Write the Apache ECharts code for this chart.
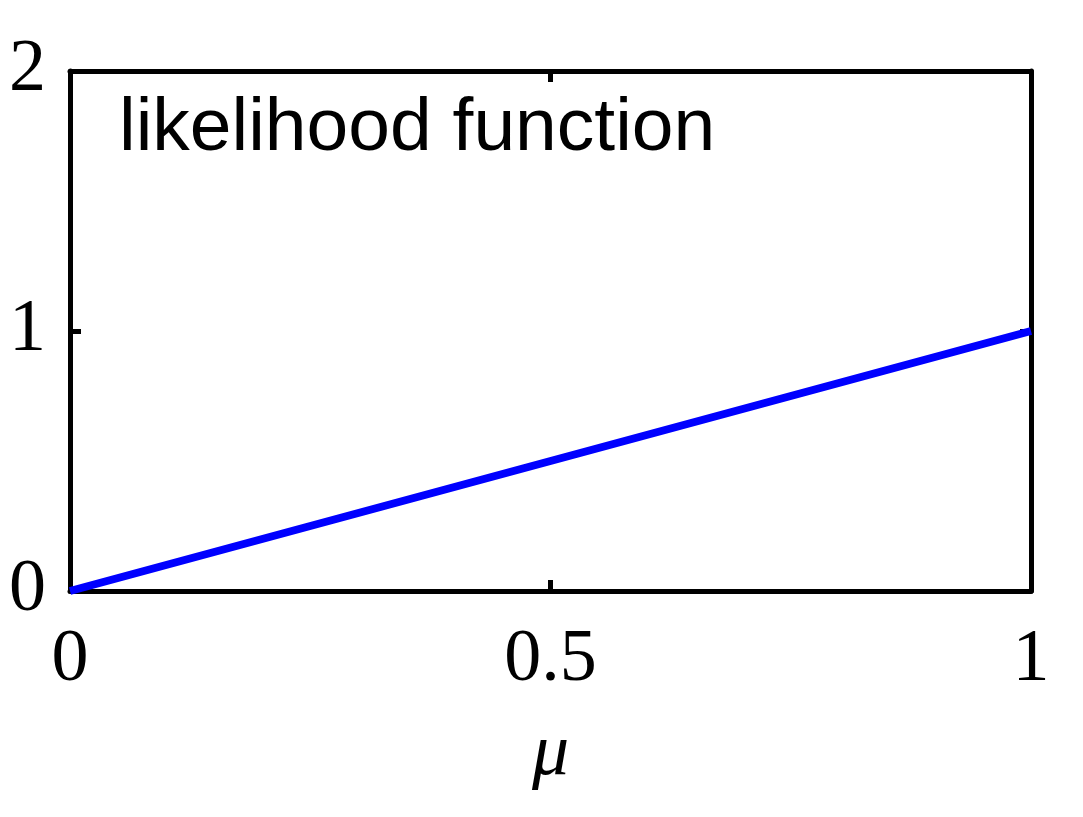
<!DOCTYPE html>
<html>
<head>
<meta charset="utf-8">
<script src="https://cdn.jsdelivr.net/npm/echarts@6/dist/echarts.min.js"></script>
<style>
html,body{margin:0;padding:0;background:#fff;}
#chart{width:1083px;height:817px;}
</style>
</head>
<body>
<div id="chart"></div>
<script>
var muValues = [0, 0.25, 0.5, 0.75, 1];
var likelihood = [0, 0.25, 0.5, 0.75, 1];
var xTicks = [0, 0.5, 1];
var yTicks = [0, 1, 2];
var titleText = 'likelihood function';
var xName = 'μ';

var serif = '"Liberation Serif", "DejaVu Serif", serif';
var sans = '"Liberation Sans", Arial, sans-serif';

var chart = echarts.init(document.getElementById('chart'), null, {renderer: 'canvas'});

function axisLine() { return {show: true, onZero: false, lineStyle: {color: '#000', width: 5}}; }
function tick() { return {show: true, inside: true, length: 11, lineStyle: {color: '#000', width: 5}}; }

var option = {
  backgroundColor: '#fff',
  animation: false,
  grid: {left: 70, right: 52, top: 71, bottom: 226, containLabel: false},
  xAxis: [{
    type: 'value', min: xTicks[0], max: xTicks[xTicks.length - 1], interval: 0.5,
    position: 'bottom',
    name: xName, nameLocation: 'middle', nameGap: 127,
    nameTextStyle: {fontFamily: serif, fontStyle: 'italic', fontSize: 74, color: '#000'},
    axisLine: axisLine(),
    axisTick: tick(),
    axisLabel: {show: true, margin: 33, fontFamily: serif, fontSize: 74, color: '#000',
      formatter: function (v) { return String(v); }},
    splitLine: {show: false}
  }, {
    type: 'value', min: xTicks[0], max: xTicks[xTicks.length - 1], interval: 0.5,
    position: 'top',
    axisLine: axisLine(),
    axisTick: tick(),
    axisLabel: {show: false},
    splitLine: {show: false}
  }],
  yAxis: [{
    type: 'value', min: yTicks[0], max: yTicks[yTicks.length - 1], interval: 1,
    position: 'left',
    axisLine: axisLine(),
    axisTick: tick(),
    axisLabel: {show: true, margin: 24, fontFamily: serif, fontSize: 74, color: '#000'},
    splitLine: {show: false}
  }, {
    type: 'value', min: yTicks[0], max: yTicks[yTicks.length - 1], interval: 1,
    position: 'right',
    axisLine: axisLine(),
    axisTick: tick(),
    axisLabel: {show: false},
    splitLine: {show: false}
  }],
  graphic: [{
    type: 'text', left: 119, top: 92, z: 100,
    style: {text: titleText, fontFamily: sans, fontSize: 75, fill: '#000'}
  }],
  series: [{
    type: 'line',
    xAxisIndex: 0, yAxisIndex: 0,
    data: muValues.map(function (m, i) { return [m, likelihood[i]]; }),
    showSymbol: false,
    symbol: 'none',
    lineStyle: {color: '#0000ff', width: 8},
    z: 1
  }]
};
chart.setOption(option);
</script>
</body>
</html>
